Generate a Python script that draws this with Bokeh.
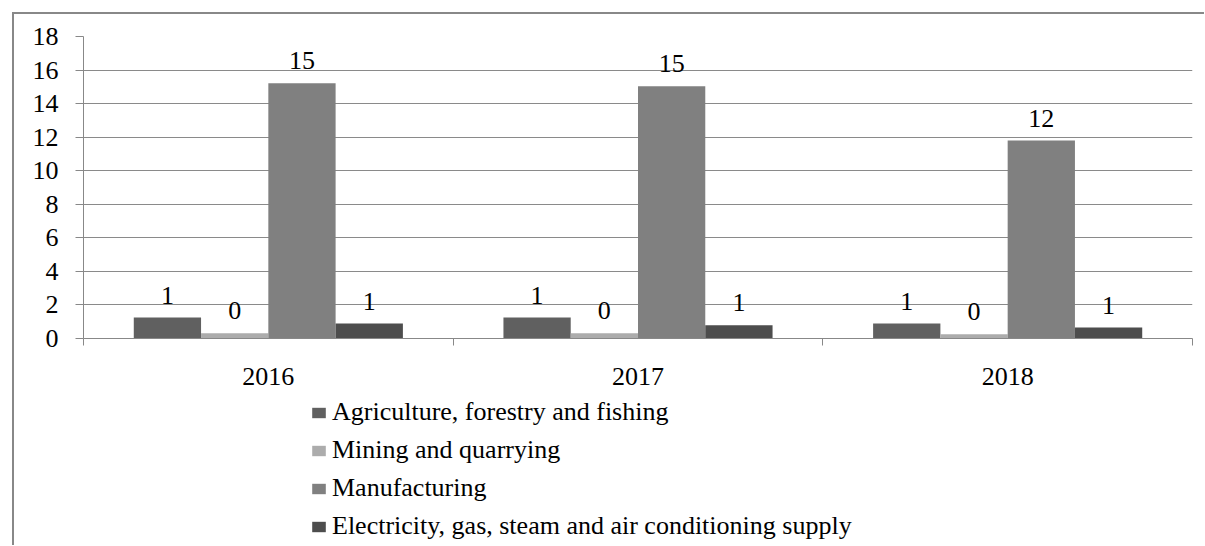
from bokeh.plotting import figure
from bokeh.layouts import column
from bokeh.models import ColumnDataSource, FixedTicker, LabelSet, Legend, LegendItem
from bokeh.core.properties import value
from bokeh.transform import dodge
from bokeh.embed import file_html
from bokeh.resources import INLINE

# Share by sector, per year
years = ["2016", "2017", "2018"]
agriculture = [1.25, 1.25, 0.89]
mining = [0.32, 0.32, 0.26]
manufacturing = [15.21, 15.04, 11.8]
electricity = [0.89, 0.79, 0.65]

sectors = ["Agriculture, forestry and fishing", "Mining and quarrying",
           "Manufacturing", "Electricity, gas, steam and air conditioning supply"]
colors = ["#606060", "#acacac", "#808080", "#4d4d4d"]
series = list(zip(sectors, [agriculture, mining, manufacturing, electricity], colors))

FONT = "Liberation Serif"
FS = "26px"
W = 1190

# Category slots sit at 0.5, 1.5, 2.5 on a numeric axis so ticks can mark the slot edges
pos = [i + 0.5 for i in range(len(years))]

p = figure(width=W, height=378, x_range=(0, len(years)), y_range=(0, 18),
           output_backend="svg", toolbar_location=None,
           min_border_left=69, min_border_right=12, min_border_top=22,
           min_border_bottom=54)
p.outline_line_color = None
p.background_fill_color = "white"
p.border_fill_color = "white"

bar_w = 0.182
offsets = [-1.5 * bar_w, -0.5 * bar_w, 0.5 * bar_w, 1.5 * bar_w]

sources = []
for (name, vals, color), off in zip(series, offsets):
    src = ColumnDataSource(dict(pos=pos, val=vals,
                                lbl=["%.0f" % v for v in vals]))
    sources.append(src)
    p.vbar(x=dodge("pos", off), top="val", width=bar_w, source=src,
           fill_color=color, line_color=None)
    labels = LabelSet(x=dodge("pos", off), y="val", text="lbl", source=src,
                      text_align="center", text_baseline="alphabetic", y_offset=14,
                      text_font=value(FONT), text_font_size=FS, text_color="black")
    p.add_layout(labels)

# Axes
p.xaxis.ticker = FixedTicker(ticks=pos, minor_ticks=[0, 1, 2, 3])
p.xaxis.major_label_overrides = {v: y for v, y in zip(pos, years)}
p.xaxis.major_tick_out = 0
p.xaxis.major_tick_in = 0
p.xaxis.minor_tick_out = 7
p.xaxis.minor_tick_in = 0
p.xaxis.minor_tick_line_color = "#888888"
p.xaxis.axis_line_color = "#888888"
p.xaxis.major_label_standoff = 22
p.xaxis.major_label_text_font = FONT
p.xaxis.major_label_text_font_size = FS
p.xaxis.major_label_text_color = "black"

p.yaxis.ticker = FixedTicker(ticks=list(range(0, 19, 2)))
p.yaxis.major_tick_out = 8
p.yaxis.major_tick_in = 0
p.yaxis.minor_tick_line_color = None
p.yaxis.axis_line_color = "#888888"
p.yaxis.major_tick_line_color = "#888888"
p.yaxis.major_label_standoff = 17
p.yaxis.major_label_text_font = FONT
p.yaxis.major_label_text_font_size = FS
p.yaxis.major_label_text_color = "black"

p.xgrid.grid_line_color = None
p.ygrid.grid_line_color = "#8a8a8a"
p.ygrid.grid_line_width = 1

# Legend strip under the chart; its key renderers share the bar data but sit
# outside the strip's visible y range, so only the legend keys show
lg = figure(width=W, height=153, x_range=(0, len(years)), y_range=(100, 101),
            x_axis_type=None, y_axis_type=None,
            output_backend="svg", toolbar_location=None,
            min_border_left=0, min_border_right=0,
            min_border_top=0, min_border_bottom=0)
lg.outline_line_color = None
lg.xgrid.grid_line_color = None
lg.ygrid.grid_line_color = None
lg.border_fill_color = "white"

items = []
for (name, _, color), off, src in zip(series, offsets, sources):
    key = lg.vbar(x=dodge("pos", off), top="val", width=bar_w, source=src,
                  fill_color=color, line_color=None)
    items.append(LegendItem(label=name, renderers=[key]))

legend = Legend(items=items, location=(227, 0), orientation="vertical",
                glyph_width=17, glyph_height=13, label_height=38, label_standoff=5,
                spacing=0, padding=0, margin=0,
                label_text_font=FONT, label_text_font_size=FS,
                label_text_color="black",
                border_line_color=None, background_fill_alpha=0)
lg.add_layout(legend, "center")

# Chart box: grey border on the left and top, offset from the page corner
page = column(p, lg, spacing=0)
page.margin = (12, 0, 0, 12)
page.styles = {"border-left": "2px solid #888888", "border-top": "2px solid #888888"}

open("out.html", "w").write(file_html(page, INLINE))
